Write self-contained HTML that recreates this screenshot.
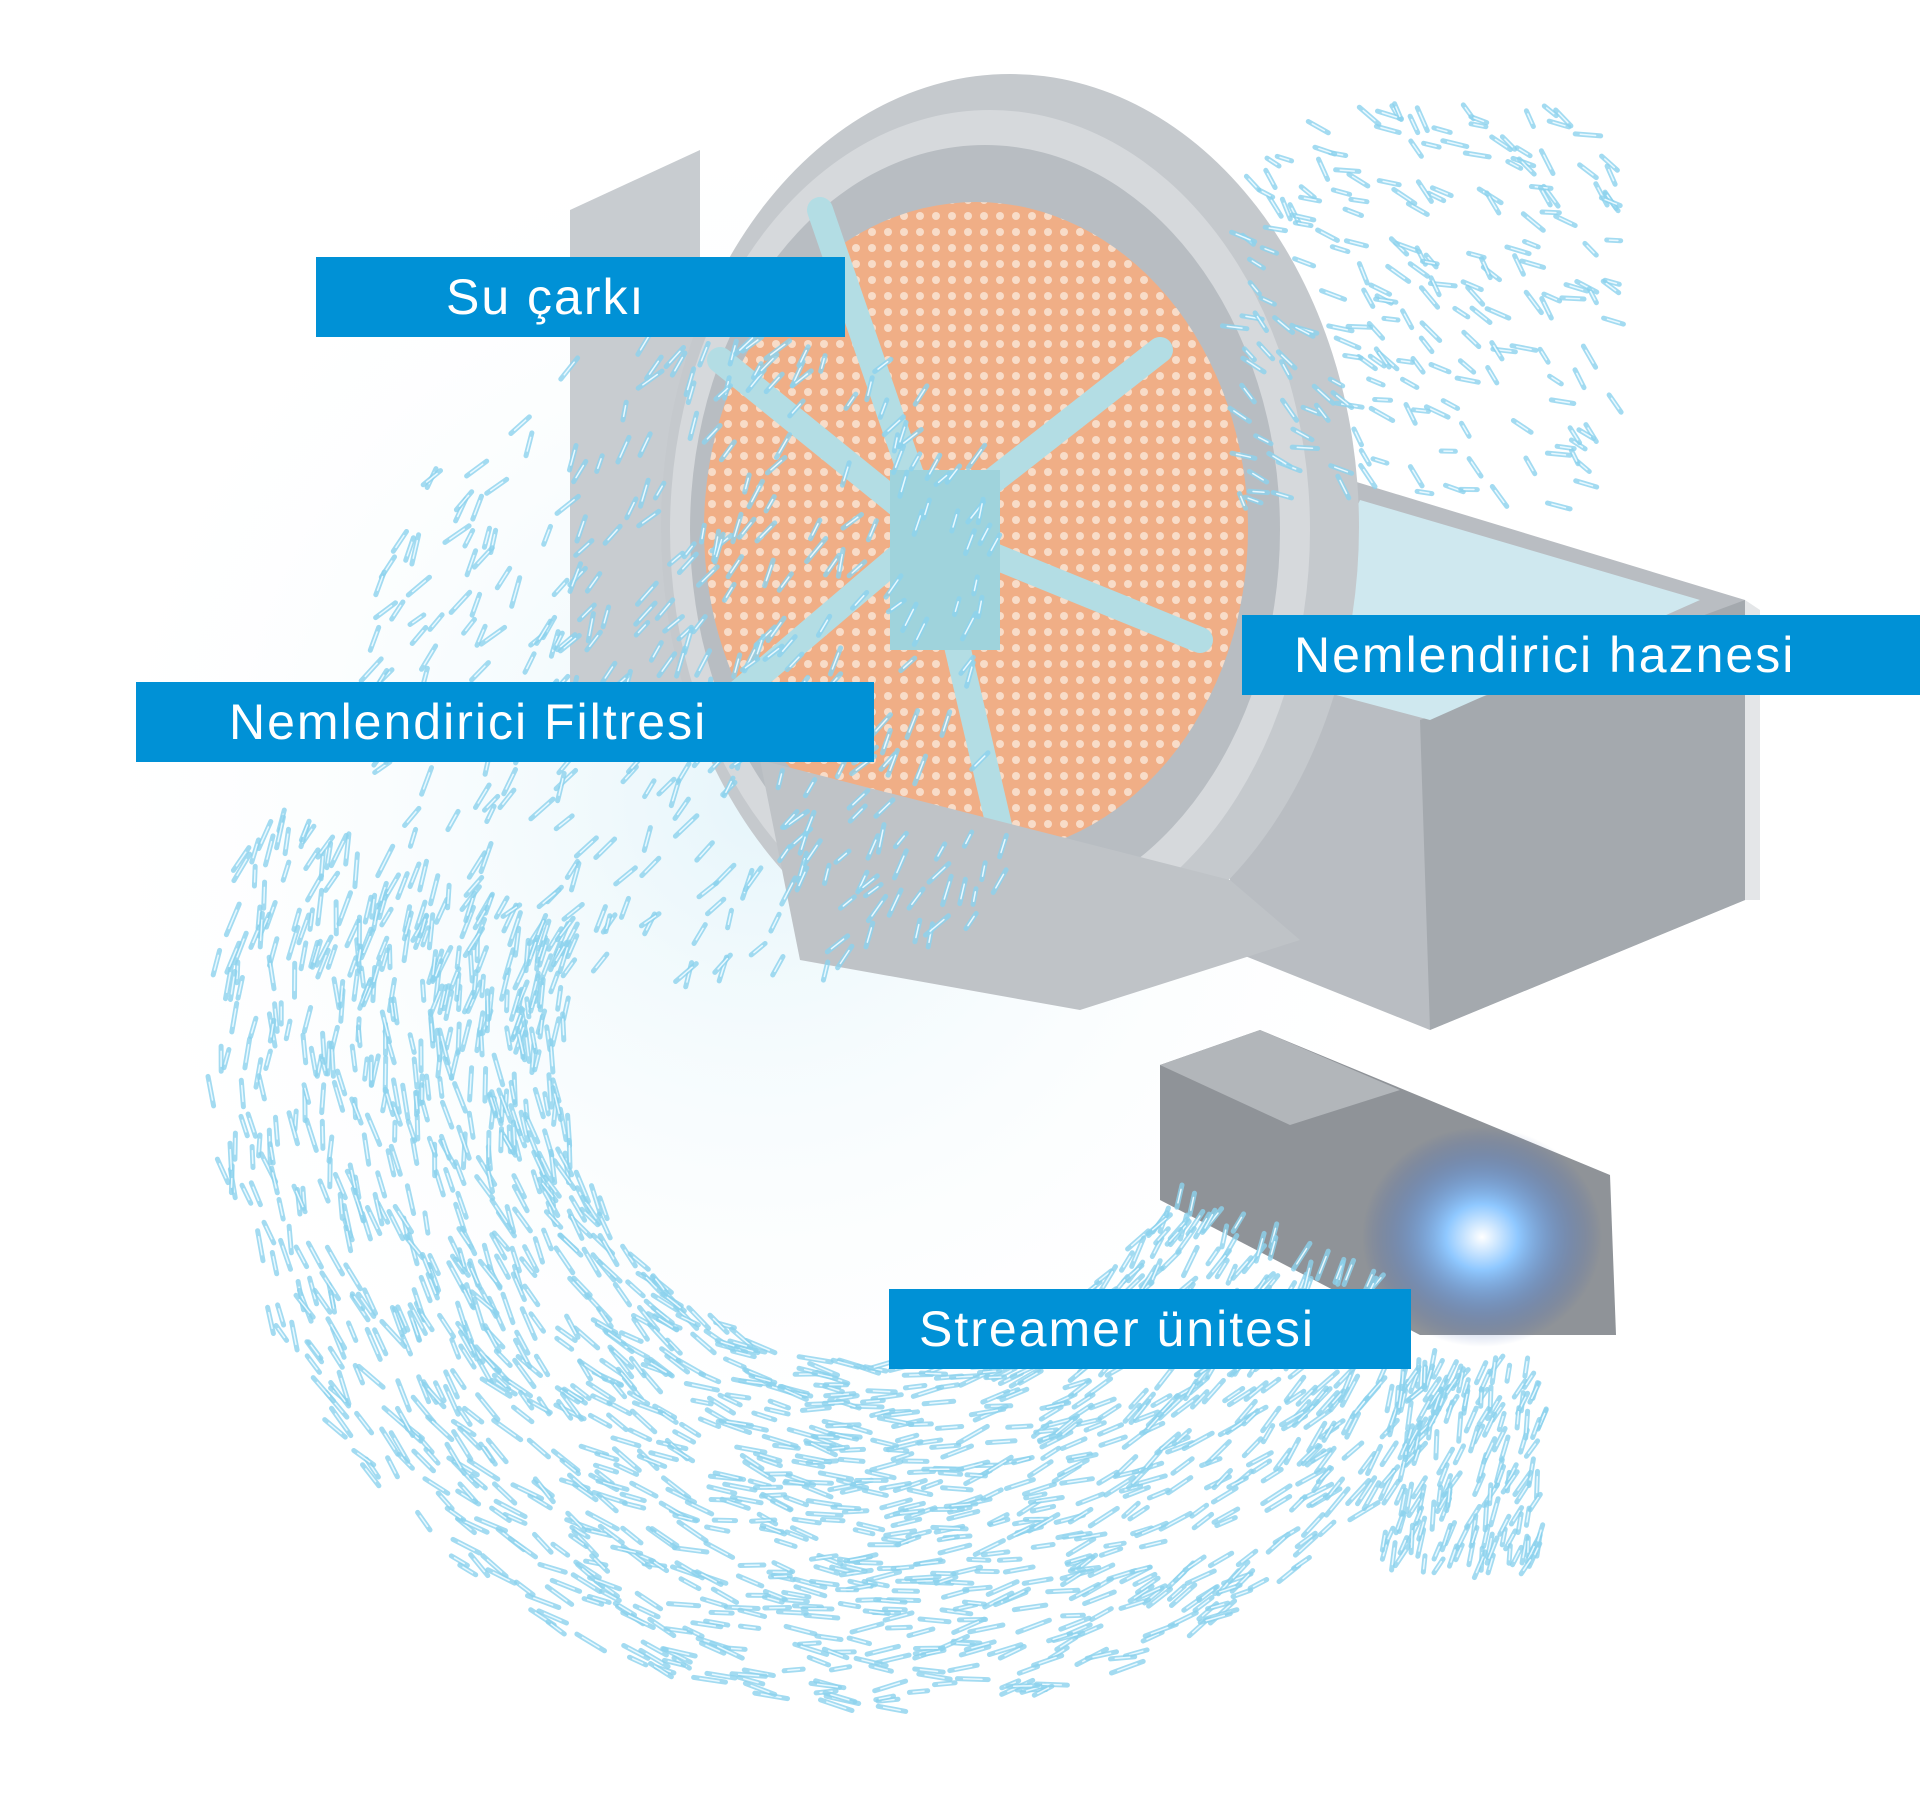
<!DOCTYPE html>
<html><head><meta charset="utf-8"><style>
html,body{margin:0;padding:0;background:#fff;}
body{width:1920px;height:1803px;position:relative;overflow:hidden;font-family:"Liberation Sans",sans-serif;}
.lbl{position:absolute;background:#0091d6;color:#fff;font-size:50px;line-height:80px;height:80px;letter-spacing:2px;box-sizing:border-box;white-space:nowrap;}
svg{position:absolute;left:0;top:0;}
</style></head><body>
<svg id="s" width="1920" height="1803" viewBox="0 0 1920 1803">
<defs>
<radialGradient id="glow" cx="50%" cy="50%" r="50%">
<stop offset="0" stop-color="#e3f4fa" stop-opacity="0.9"/><stop offset="1" stop-color="#fff" stop-opacity="0"/></radialGradient>
<radialGradient id="blue" cx="50%" cy="50%" r="50%">
<stop offset="0" stop-color="#ffffff"/><stop offset="0.3" stop-color="#8fc8ff"/><stop offset="1" stop-color="#2b4fa8" stop-opacity="0"/></radialGradient>
<pattern id="mesh" width="16" height="16" patternUnits="userSpaceOnUse">
<rect width="16" height="16" fill="#f0ae86"/><circle cx="8" cy="8" r="4" fill="#f8dcc8"/></pattern>
</defs>
<ellipse cx="760" cy="800" rx="700" ry="700" fill="url(#glow)"/>
<polygon points="570,210 700,150 700,690 570,690" fill="#c8ccd0"/>
<polygon points="1350,480 1745,600 1745,900 1430,1030 1230,950 1230,560" fill="#b9bdc2"/>
<polygon points="1420,720 1745,600 1745,900 1430,1030" fill="#a4a9ae"/>
<polygon points="1360,500 1700,600 1430,720 1280,680" fill="#cfe8ef"/>
<polygon points="1745,600 1760,610 1760,900 1745,900" fill="#e4e6e8"/>
<ellipse cx="1010" cy="527" rx="349" ry="453" fill="#c5c9cd"/>
<ellipse cx="990" cy="530" rx="320" ry="420" fill="#d6d9dc"/>
<ellipse cx="985" cy="530" rx="295" ry="385" fill="#b8bdc2"/>
<ellipse cx="976" cy="529" rx="272" ry="327" fill="url(#mesh)"/>
<g stroke="#b3dde4" stroke-width="26" stroke-linecap="round">
<line x1="930" y1="530" x2="820" y2="210"/><line x1="930" y1="530" x2="1160" y2="350"/>
<line x1="930" y1="530" x2="1200" y2="640"/><line x1="930" y1="530" x2="1000" y2="830"/>
<line x1="930" y1="530" x2="730" y2="700"/><line x1="930" y1="530" x2="720" y2="360"/></g>
<rect x="890" y="470" width="110" height="180" fill="#9fd3dc"/>
<polygon points="760,760 1230,880 1300,940 1080,1010 800,960" fill="#bfc3c7"/>
<polygon points="1160,1065 1260,1030 1610,1175 1616,1335 1420,1335 1160,1200" fill="#8f9398"/>
<polygon points="1160,1065 1260,1030 1400,1090 1290,1125" fill="#b2b6ba"/>
<ellipse cx="1482" cy="1237" rx="120" ry="110" fill="url(#blue)"/>
<g id="p" stroke-linecap="round"></g>
</svg>
<div class="lbl" style="left:316px;top:257px;width:529px;padding-left:130px;">Su çarkı</div>
<div class="lbl" style="left:136px;top:682px;width:738px;padding-left:93px;">Nemlendirici Filtresi</div>
<div class="lbl" style="left:1242px;top:615px;width:678px;padding-left:52px;">Nemlendirici haznesi</div>
<div class="lbl" style="left:889px;top:1289px;width:522px;padding-left:30px;">Streamer ünitesi</div>
<script>
(function(){
var seed=7;function r(){seed=(seed*16807)%2147483647;return seed/2147483647;}
var g=document.getElementById('p'),out='';
var S=1.2245;
function add(x,y,a,len){
 var dx=Math.cos(a)*len/2,dy=Math.sin(a)*len/2;
 x*=S;y*=S;
 out+='<line x1="'+(x-dx).toFixed(1)+'" y1="'+(y-dy).toFixed(1)+'" x2="'+(x+dx).toFixed(1)+'" y2="'+(y+dy).toFixed(1)+'" stroke="#8dd3ee" stroke-width="5" opacity="0.8"/>';
 out+='<line x1="'+(x-dx*0.6).toFixed(1)+'" y1="'+(y-dy*0.6).toFixed(1)+'" x2="'+(x+dx*0.6).toFixed(1)+'" y2="'+(y+dy*0.6).toFixed(1)+'" stroke="#e8f8ff" stroke-width="1.5"/>';
}
var cx=720,cy=860;
for(var i=0;i<1550;i++){
 var t=r();
 var ang=Math.PI*(0.88+t*0.98);
 var rad=260+r()*290;
 var x=cx+Math.cos(ang)*rad, y=cy-Math.sin(ang)*rad*0.98;
 if(x<150||y>1420||y<380)continue;
 if(x>1130&&y<1120)continue;
 var tang=Math.atan2(-Math.cos(ang)*0.98,-Math.sin(ang))+Math.PI+(r()-0.5)*0.6;
 add(x,y,tang,18+r()*16);
}
for(var i=0;i<400;i++){
 var x=300+r()*520,y=280+r()*520;
 if((x-600)*(x-600)/90000+(y-550)*(y-550)/80000>1)continue;
 add(x,y,-1.0+(r()-0.5)*0.8,16+r()*14);
}
for(var i=0;i<220;i++){
 var x=1000+r()*320,y=90+r()*330;
 if(x+y*0.2<1050)continue;
 add(x,y,0.6+(r()-0.5)*1.2,14+r()*12);
}
for(var i=0;i<160;i++){
 var x=1130+r()*130,y=1110+r()*170;
 add(x,y,1.9+(r()-0.5)*0.6,16+r()*12);
}
g.innerHTML=out;
})();
</script>
</body></html>
